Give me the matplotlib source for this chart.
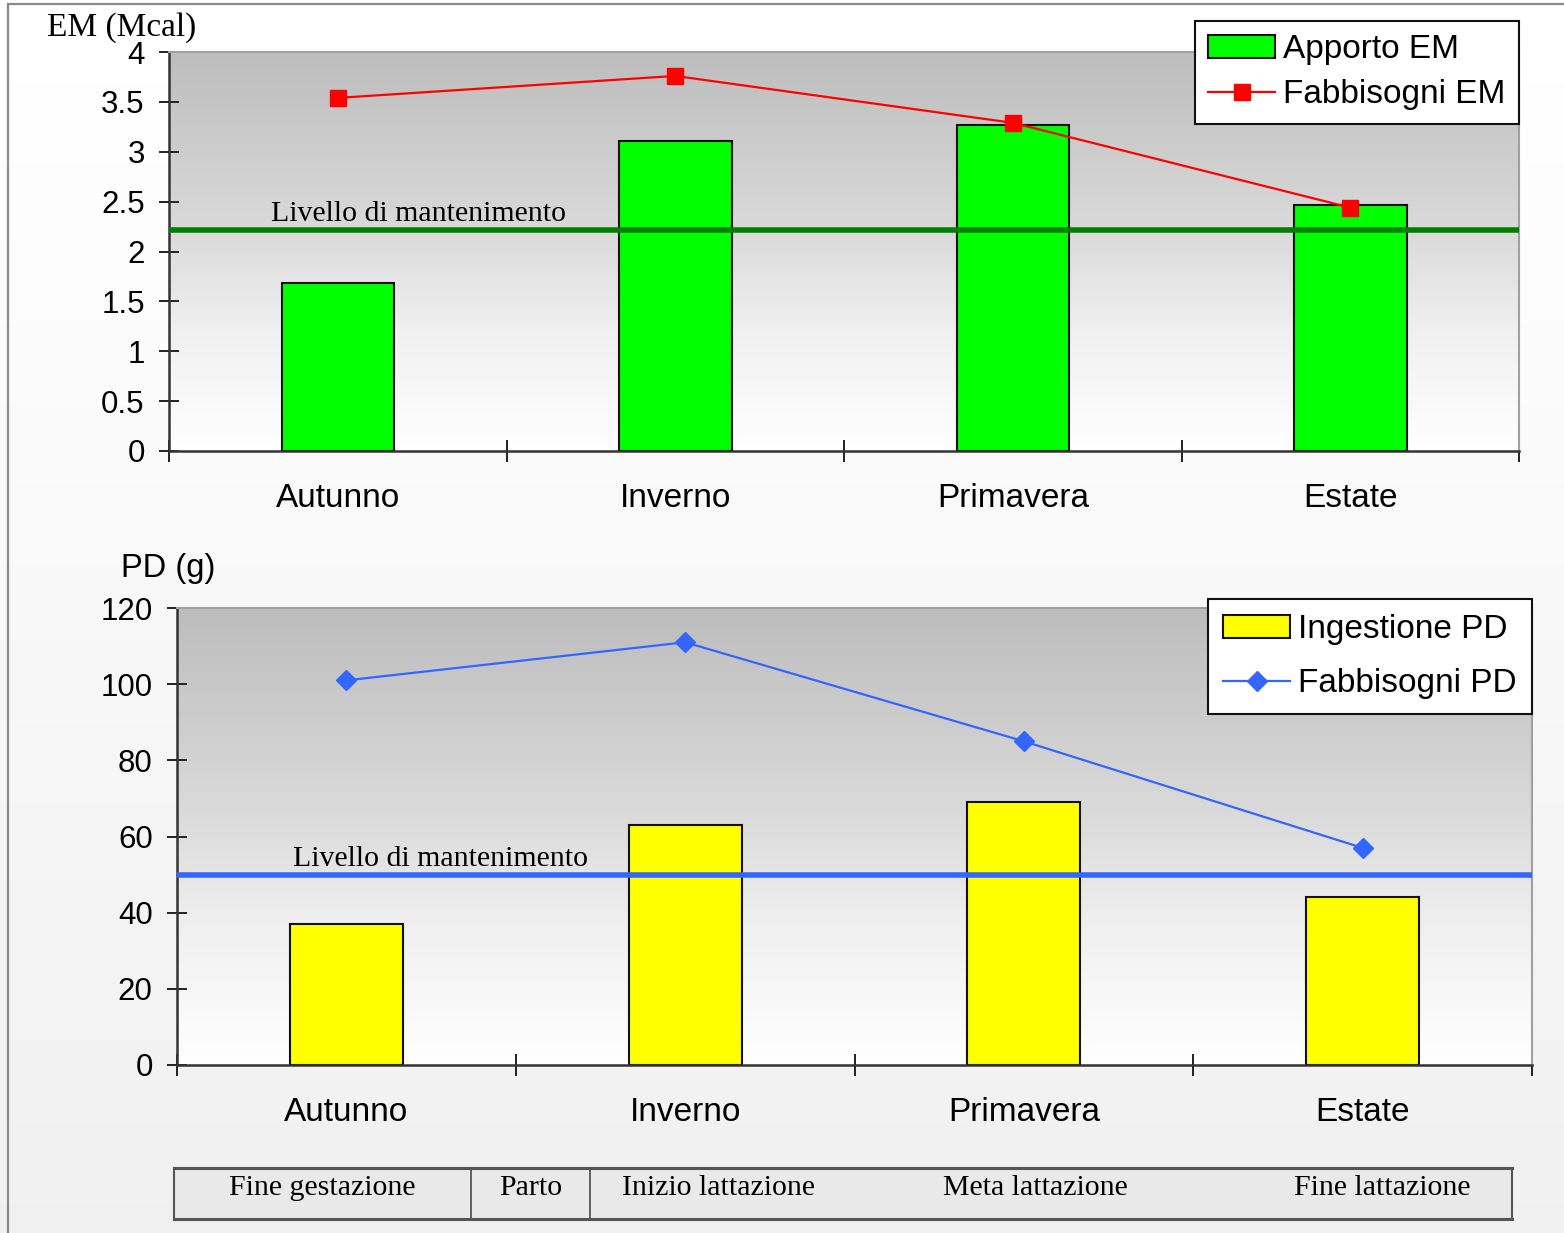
import numpy as np
import matplotlib
matplotlib.use("Agg")
import matplotlib.pyplot as plt
from matplotlib.patches import Rectangle
from matplotlib.colors import LinearSegmentedColormap

# ---------------- data ----------------
seasons = ["Autunno", "Inverno", "Primavera", "Estate"]

em_supply = [1.68, 3.11, 3.27, 2.47]       # Apporto EM (bars)
em_need = [3.54, 3.76, 3.29, 2.44]         # Fabbisogni EM (line)
em_maintenance = 2.22
em_yticks = [0, 0.5, 1, 1.5, 2, 2.5, 3, 3.5, 4]
em_yticklabels = ["0", "0.5", "1", "1.5", "2", "2.5", "3", "3.5", "4"]

pd_intake = [37, 63, 69, 44]               # Ingestione PD (bars)
pd_need = [101, 111, 85, 57]               # Fabbisogni PD (line)
pd_maintenance = 50
pd_yticks = [0, 20, 40, 60, 80, 100, 120]
pd_yticklabels = ["0", "20", "40", "60", "80", "100", "120"]

phases = ["Fine gestazione", "Parto", "Inizio lattazione", "Meta lattazione", "Fine lattazione"]

maint_label = "Livello di mantenimento"

# ---------------- figure ----------------
W, H = 1564, 1233
fig = plt.figure(figsize=(W / 100, H / 100), dpi=100)

SANS = ["Liberation Sans", "DejaVu Sans"]
SERIF = ["Liberation Serif", "DejaVu Serif"]

# figure background gradient + frame
bg = fig.add_axes([0, 0, 1, 1], zorder=-10)
bg.set_axis_off()
g = np.linspace(1.0, 0.94, 256).reshape(-1, 1)
bg.imshow(g, extent=[0, 1, 0, 1], aspect="auto", cmap="gray", vmin=0, vmax=1)
bg.set_xlim(0, 1)
bg.set_ylim(0, 1)
bg.add_patch(Rectangle((8 / W, -0.01), 1.2, 1 - 4 / H + 0.01, fill=False,
                       edgecolor="#8a8a8a", lw=1.6))

grad_cmap = LinearSegmentedColormap.from_list(
    "g", [(0.0, "#ffffff"), (0.3, "#f0f0f0"), (0.55, "#dadada"), (1.0, "#bdbdbd")])


def style_axes(ax, ymax, yticks, yticklabels):
    grad = np.linspace(1, 0, 256).reshape(-1, 1)
    ax.imshow(grad, extent=[0, 1, 0, 1], transform=ax.transAxes, aspect="auto",
              cmap=grad_cmap, vmin=0, vmax=1, zorder=0)
    ax.set_xlim(-0.5, len(seasons) - 0.5)
    ax.set_ylim(0, ymax)
    ax.set_yticks(yticks)
    ax.set_yticklabels(yticklabels, fontfamily=SANS, fontsize=22.5)
    ax.set_xticks(range(len(seasons)))
    ax.set_xticklabels(seasons, fontfamily=SANS, fontsize=24)
    ax.set_xticks(np.arange(-0.5, len(seasons), 1.0), minor=True)
    ax.tick_params(axis="x", which="major", length=0, pad=23)
    ax.tick_params(axis="x", which="minor", direction="inout", length=16, width=1.4,
                   color="#222222")
    ax.tick_params(axis="y", which="major", direction="inout", length=14, width=1.4,
                   color="#222222", pad=10.5)
    for s in ["left", "bottom"]:
        ax.spines[s].set_color("#333333")
        ax.spines[s].set_linewidth(1.8)
    for s in ["top", "right"]:
        ax.spines[s].set_color("#a0a0a0")
        ax.spines[s].set_linewidth(1.5)


def add_legend(ax, handles, labels, anchor_y, spacing, pad):
    leg = ax.legend(handles, labels, loc="upper right", bbox_to_anchor=(1.0, anchor_y),
                    borderaxespad=0, prop={"family": SANS, "size": 24}, fancybox=False,
                    framealpha=1, edgecolor="#111111", handlelength=2.0,
                    labelspacing=spacing, handletextpad=0.25, borderpad=pad,
                    numpoints=1)
    leg.get_frame().set_linewidth(1.5)
    leg.set_zorder(10)
    return leg


x = np.arange(len(seasons))

# ---------------- top chart ----------------
ax1 = fig.add_axes([169 / W, 1 - 451 / H, (1519 - 169) / W, (451 - 52) / H])
style_axes(ax1, 4, em_yticks, em_yticklabels)
b1 = ax1.bar(x, em_supply, width=1 / 3, color="#00ff00", edgecolor="#111111", lw=1.5,
             zorder=2)
ax1.axhline(em_maintenance, color="#008000", lw=4, zorder=3)
l1, = ax1.plot(x, em_need, color="#ff0000", lw=1.6, marker="s", ms=11, zorder=4)
ax1.annotate(maint_label, xy=(0.238, em_maintenance), xytext=(0, 6),
             textcoords="offset points", ha="center", va="baseline",
             fontfamily=SERIF, fontsize=21.5, zorder=5)
add_legend(ax1, [b1, l1], ["Apporto EM", "Fabbisogni EM"], 1.078, 0.42, 0.4)

# ---------------- bottom chart ----------------
ax2 = fig.add_axes([177 / W, 1 - 1065 / H, (1532 - 177) / W, (1065 - 608) / H])
style_axes(ax2, 120, pd_yticks, pd_yticklabels)
b2 = ax2.bar(x, pd_intake, width=1 / 3, color="#ffff00", edgecolor="#111111", lw=1.5,
             zorder=2)
ax2.axhline(pd_maintenance, color="#3366ff", lw=4, zorder=3)
l2, = ax2.plot(x, pd_need, color="#3366ff", lw=1.6, marker="D", ms=10, zorder=4)
ax2.annotate(maint_label, xy=(0.279, pd_maintenance), xytext=(0, 6),
             textcoords="offset points", ha="center", va="baseline",
             fontfamily=SERIF, fontsize=21.5, zorder=5)
add_legend(ax2, [b2, l2], ["Ingestione PD", "Fabbisogni PD"], 1.02, 0.7, 0.45)

# axis titles
fig.text(122 / W, 1 - 28 / H, "EM (Mcal)", ha="center", va="center",
         fontfamily=SERIF, fontsize=24)
fig.text(168 / W, 1 - 568 / H, "PD (g)", ha="center", va="center",
         fontfamily=SANS, fontsize=23.5)

# ---------------- phase table ----------------
tx0, tx1, ty0, ty1 = 174, 1512, 1168, 1219
axt = fig.add_axes([tx0 / W, 1 - ty1 / H, (tx1 - tx0) / W, (ty1 - ty0) / H])
axt.set_xlim(tx0, tx1)
axt.set_ylim(ty1, ty0)
axt.set_facecolor("#e9e9e9")
for s in axt.spines.values():
    s.set_color("#555555")
    s.set_linewidth(1.5)
axt.spines["top"].set_linewidth(2.2)
axt.spines["bottom"].set_linewidth(2.2)
axt.set_xticks([])
axt.set_yticks([])
for xd in [471, 590]:
    axt.axvline(xd, color="#555555", lw=1.3)
text_x = [322, 531, 718, 1035, 1382]
for lbl, xc in zip(phases, text_x):
    axt.text(xc, 1188, lbl, ha="center", va="center", fontfamily=SERIF, fontsize=21.5)

fig.savefig("out.png", dpi=100)
